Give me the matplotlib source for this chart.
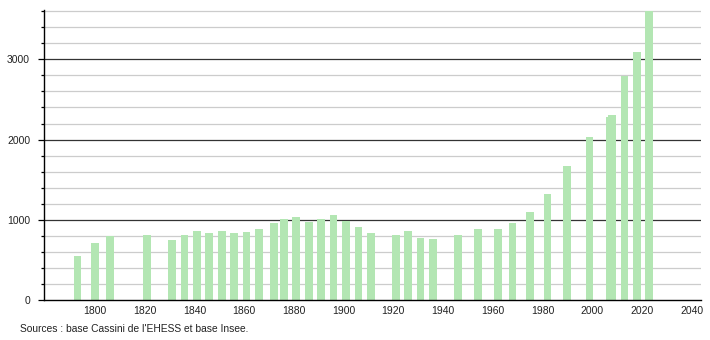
import matplotlib.pyplot as plt
from matplotlib.ticker import MultipleLocator

# Données : recensements
annees = [1793, 1800, 1806, 1821, 1831, 1836, 1841, 1846, 1851, 1856,
          1861, 1866, 1872, 1876, 1881, 1886, 1891, 1896, 1901, 1906,
          1911, 1921, 1926, 1931, 1936, 1946, 1954, 1962, 1968, 1975,
          1982, 1990, 1999, 2007, 2008, 2013, 2018, 2023]
population = [554, 708, 804, 812, 754, 816, 862, 841, 866, 841,
              845, 891, 958, 1004, 1031, 970, 1004, 1060, 981, 908,
              841, 814, 866, 779, 766, 814, 879, 879, 966, 1091,
              1316, 1666, 2033, 2285, 2305, 2791, 3095, 3600]
ticks_x = [1800, 1820, 1840, 1860, 1880, 1900, 1920, 1940, 1960, 1980, 2000, 2020, 2040]
ticks_y = [0, 1000, 2000, 3000]
source = "Sources : base Cassini de l'EHESS et base Insee."

plt.rcParams['font.family'] = ['Liberation Sans', 'DejaVu Sans']

fig = plt.figure(figsize=(7.1, 3.4), dpi=100)
ax = fig.add_axes([44 / 710, 1 - 300 / 340, 657 / 710, 290 / 340])

# Grille : fine tous les 200, foncée tous les 1000
for v in range(200, 3601, 200):
    if v % 1000 == 0:
        ax.axhline(v, color='#333333', linewidth=0.9, zorder=1)
    else:
        ax.axhline(v, color='#cccccc', linewidth=0.9, zorder=1)

ax.bar(annees, population, width=3.1, color='#b3e6b3', zorder=2)

ax.set_xlim(1779.5, 2043.8)
ax.set_ylim(0, 3615)
ax.set_xticks(ticks_x)
ax.set_yticks(ticks_y)
ax.yaxis.set_minor_locator(MultipleLocator(200))
ax.tick_params(axis='x', length=0, pad=4, labelsize=7.5, labelcolor='#222222')
ax.tick_params(axis='y', which='major', length=4, width=0.9, pad=6, labelsize=7.5,
               labelcolor='#222222')
ax.tick_params(axis='y', which='minor', length=2, width=0.9)

for s in ['top', 'right']:
    ax.spines[s].set_visible(False)
ax.spines['left'].set_linewidth(1.0)
ax.spines['bottom'].set_linewidth(1.0)

fig.text(20 / 710, 1 - 329 / 340, source, fontsize=7.4, va='center', ha='left',
         color='#222222')

plt.savefig('out.png', dpi=100)
